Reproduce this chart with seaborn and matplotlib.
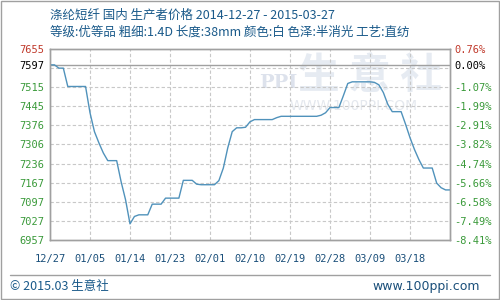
import numpy as np
import pandas as pd
import matplotlib
matplotlib.use("Agg")
import matplotlib.pyplot as plt
import matplotlib.dates as mdates
from matplotlib.patches import Rectangle
from matplotlib.lines import Line2D
import seaborn as sns

# ---- data ----
start_date = "2014-12-27"
prices = [
    7597, 7597, 7585, 7585, 7518, 7518, 7518, 7518, 7518, 7422,
    7353, 7312, 7275, 7247, 7247, 7247, 7170, 7104, 7016, 7043,
    7049, 7049, 7049, 7088, 7088, 7088, 7110, 7110, 7110, 7110,
    7175, 7175, 7175, 7161, 7159, 7159, 7159, 7159, 7174, 7220,
    7294, 7353, 7367, 7367, 7369, 7389, 7397, 7397, 7397, 7397,
    7397, 7404, 7409, 7409, 7409, 7409, 7409, 7409, 7409, 7409,
    7409, 7413, 7422, 7441, 7441, 7441, 7484, 7529, 7535, 7535,
    7535, 7535, 7535, 7533, 7524, 7496, 7453, 7426, 7426, 7426,
    7380, 7331, 7288, 7251, 7220, 7220, 7220, 7165, 7148, 7140,
    7140,
]
base_price = 7597
y_min, y_max = 6957, 7655
left_labels = ["6957", "7027", "7097", "7167", "7236", "7306", "7376", "7445", "7515", "7597", "7655"]
left_label_vals = [6957, 7026.8, 7096.6, 7166.4, 7236.2, 7306, 7375.8, 7445.6, 7515.4, 7597, 7655]
right_labels = ["-8.41%", "-7.49%", "-6.58%", "-5.66%", "-4.74%", "-3.82%", "-2.91%", "-1.99%", "-1.07%", "0.00%", "0.76%"]
grid_vals = [7026.8, 7096.6, 7166.4, 7236.2, 7306, 7375.8, 7445.6, 7515.4, 7585.2]
x_tick_labels = ["12/27", "01/05", "01/14", "01/23", "02/01", "02/10", "02/19", "02/28", "03/09", "03/18"]
title1 = "涤纶短纤 国内 生产者价格 2014-12-27 - 2015-03-27"
title2 = "等级:优等品 粗细:1.4D 长度:38mm 颜色:白 色泽:半消光 工艺:直纺"
footer = "© 2015.03 生意社"

dates = pd.date_range(start_date, periods=len(prices), freq="D")
df = pd.DataFrame({"date": dates, "price": prices})

sns.set_style("white")
plt.rcParams["font.family"] = ["Noto Sans CJK SC", "DejaVu Sans"]

fig = plt.figure(figsize=(5, 3), dpi=100)
ax = fig.add_axes([0.1, 0.2, 0.8, 0.6367])

# watermark
ax.text(0.80, 0.86, "生 意 社", transform=ax.transAxes, fontsize=30, color="#e6ebf2",
        ha="center", va="center", fontweight="bold", zorder=0)
ax.text(0.76, 0.70, "WWW.100PPI.COM", transform=ax.transAxes, fontsize=10, color="#e4e8ee",
        ha="center", va="center", zorder=0, family="DejaVu Sans")
ax.text(0.57, 0.82, "PPI", transform=ax.transAxes, fontsize=14, color="#dde2ec",
        ha="center", va="center", zorder=0, family="DejaVu Serif", fontweight="bold")

sns.lineplot(data=df, x="date", y="price", ax=ax, color="#5092bb", linewidth=1.0, zorder=3)

ax.set_ylim(y_min, y_max)
ax.set_xlim(dates[0], dates[-1])

for g in grid_vals:
    ax.axhline(g, color="#c8c8c8", linestyle=(0, (3, 2)), linewidth=0.8, zorder=1)
ax.axhline(base_price, color="#a0a0a0", linewidth=1.0, zorder=2)

xt = dates[::9][:len(x_tick_labels)]
ax.set_xticks(xt)
ax.set_xticklabels(x_tick_labels, family="DejaVu Sans Mono", fontsize=7.5, color="#1a4f7a")
for d in xt[1:]:
    ax.axvline(d, color="#c8c8c8", linestyle=(0, (3, 2)), linewidth=0.8, zorder=1)

ax.set_yticks(left_label_vals)
ax.set_yticklabels(left_labels, family="DejaVu Sans Mono", fontsize=7.5)
ax.tick_params(axis="both", length=0, pad=4)
ax.tick_params(axis="x", pad=10)

def color_for(i, n):
    if i == n - 1:
        return "#c0392b"
    if i == n - 2:
        return "#000000"
    return "#3a9a3a"

for i, lab in enumerate(ax.get_yticklabels()):
    lab.set_color(color_for(i, len(left_labels)))

ax2 = ax.twinx()
ax2.set_ylim(y_min, y_max)
ax2.set_yticks(left_label_vals)
ax2.set_yticklabels(right_labels, family="DejaVu Sans Mono", fontsize=7.5)
ax2.tick_params(axis="y", length=0, pad=3)
for i, lab in enumerate(ax2.get_yticklabels()):
    lab.set_color(color_for(i, len(right_labels)))

ax.set_xlabel("")
ax.set_ylabel("")
for a in (ax, ax2):
    for s in a.spines.values():
        s.set_color("#a0a0a0")
        s.set_linewidth(1.0)

fig.text(0.1, 0.95, title1, fontsize=9, color="#1a5a8a", va="center", ha="left")
fig.text(0.1, 0.893, title2, fontsize=9, color="#1a5a8a", va="center", ha="left")

fig.add_artist(Line2D([0.02, 0.98], [0.083, 0.083], transform=fig.transFigure, color="#a0a0a0", lw=1))
fig.text(0.02, 0.045, footer, fontsize=9, color="#1a5a8a", va="center", ha="left")
fig.text(0.96, 0.045, "www.100ppi.com", fontsize=9, color="#1a4f7a", va="center", ha="right",
         family="DejaVu Sans")
fig.add_artist(Rectangle((0.002, 0.003), 0.995, 0.994, transform=fig.transFigure,
                         fill=False, ec="#a0a0a0", lw=1))

fig.savefig("out.png", dpi=100)
